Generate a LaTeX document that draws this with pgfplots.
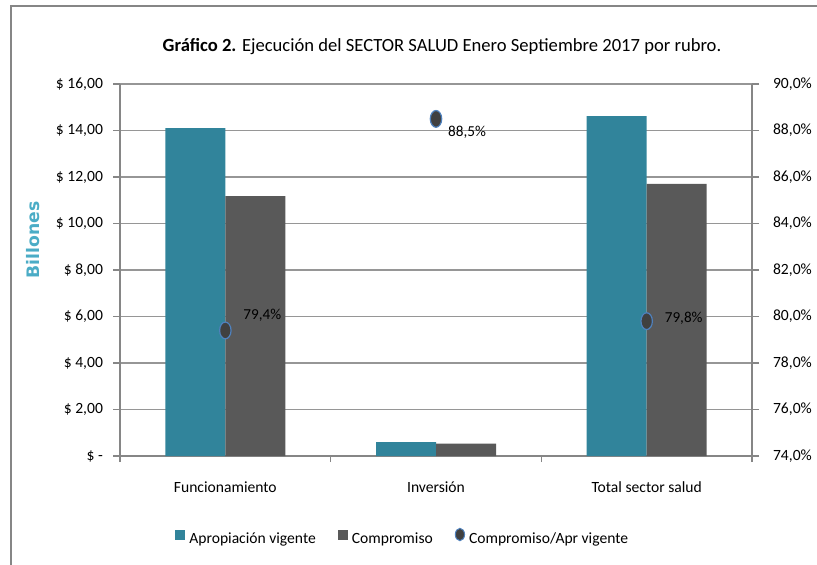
\documentclass[border=0pt]{standalone}
\usepackage{fontspec}
\setmainfont{Carlito}
\newfontfamily\billfont{DejaVu Sans}
\usepackage{pgfplots}
\pgfplotsset{compat=1.18}

\definecolor{apro}{HTML}{31849B}
\definecolor{comp}{HTML}{595959}
\definecolor{dot}{HTML}{404040}
\definecolor{dotedge}{HTML}{4F81BD}
\definecolor{gridc}{HTML}{969696}
\definecolor{axc}{HTML}{868686}
\definecolor{billc}{HTML}{4BACC6}

\begin{document}
\begin{tikzpicture}
\useasboundingbox (0,0) rectangle (408.5pt,282pt);
% chart frame (right and bottom sides fall outside the picture)
\draw[axc, line width=0.6pt] (5.5pt,-10pt) rectangle (430pt,279pt);

\begin{axis}[
    at={(60pt,54pt)}, anchor=south west,
    scale only axis, width=316pt, height=186pt,
    xmin=-0.5, xmax=2.5, ymin=0, ymax=16,
    axis x line*=bottom, axis y line*=left,
    axis line style={axc, line width=0.6pt},
    xtick={0,1,2},
    xticklabels={Funcionamiento,Inversión,Total sector salud},
    minor xtick={-0.5,0.5,1.5,2.5},
    major x tick style={draw=none},
    minor x tick style={axc, line width=0.6pt},
    ytick={0,2,...,16},
    yticklabels={\$ -,\$ 2{,}00,\$ 4{,}00,\$ 6{,}00,\$ 8{,}00,\$ 10{,}00,\$ 12{,}00,\$ 14{,}00,\$ 16{,}00},
    tick align=outside, major tick length=3.5pt, minor tick length=3pt,
    y tick style={axc, line width=0.6pt},
    ymajorgrids, grid style={gridc, line width=0.6pt},
    ticklabel style={font=\fontsize{7.8}{9}\selectfont, text=black},
    xticklabel style={yshift=-6pt},
    yticklabel style={xshift=-1.5pt},
    ybar=0pt, bar width=30pt,
    legend style={at={(0.449,-0.218)}, anchor=center, draw=none,
        font=\fontsize{7.8}{9}\selectfont, legend columns=3,
        nodes={text height=1.6ex, text depth=0.35ex},
        /tikz/every even column/.append style={column sep=9pt}},
    legend cell align=left,
]
\addplot[fill=apro, draw=none, bar shift=-15pt,
    legend image code/.code={\fill[apro] (0.1cm,-1.5pt) rectangle ++(5pt,5pt);}]
    coordinates {(0,14.10) (1,0.60) (2,14.62)};
\addlegendentry{Apropiación vigente}
\addplot[fill=comp, draw=none, bar shift=15pt,
    legend image code/.code={\fill[comp] (0.1cm,-1.5pt) rectangle ++(5pt,5pt);}]
    coordinates {(0,11.18) (1,0.53) (2,11.70)};
\addlegendentry{Compromiso}
\addlegendimage{legend image code/.code={
    \fill[dot, draw=dotedge, line width=0.5pt] (0.3cm,1.3pt) ellipse (2.3pt and 3.1pt);}}
\addlegendentry{Compromiso/Apr vigente}
\end{axis}

\begin{axis}[
    at={(60pt,54pt)}, anchor=south west,
    scale only axis, width=316pt, height=186pt,
    xmin=-0.5, xmax=2.5, ymin=74, ymax=90,
    axis x line=none, axis y line*=right,
    axis line style={axc, line width=0.6pt},
    ytick={74,76,...,90},
    yticklabels={74{,}0\%,76{,}0\%,78{,}0\%,80{,}0\%,82{,}0\%,84{,}0\%,86{,}0\%,88{,}0\%,90{,}0\%},
    tick align=outside, major tick length=3.5pt,
    y tick style={axc, line width=0.6pt},
    ticklabel style={font=\fontsize{7.8}{9}\selectfont, text=black},
    yticklabel style={xshift=3.5pt},
]
\addplot[only marks, mark=*, mark size=4.2pt,
    mark options={fill=dot, draw=dotedge, line width=0.6pt, xscale=0.68},
    visualization depends on={\thisrow{dx}\as\dx},
    visualization depends on={\thisrow{dy}\as\dy},
    point meta=explicit symbolic,
    nodes near coords,
    every node near coord/.append style={anchor=center, xshift=\dx pt, yshift=\dy pt,
        font=\fontsize{7.6}{9}\selectfont, text=black}]
    table[meta=label] {
x  y     label   dx    dy
0  79.4  79,4\%  18.5  7.5
1  88.5  88,5\%  15.5  -6.5
2  79.8  79,8\%  18.5  1.5
};
\end{axis}

\node[font=\fontsize{9.3}{11}\selectfont] at (221pt,258.5pt)
    {\textbf{Gráfico 2.} Ejecución del SECTOR SALUD Enero Septiembre 2017 por rubro.};
\node[rotate=90, font=\billfont\bfseries\fontsize{8.6}{10}\selectfont, text=billc]
    at (16.5pt,162pt) {Billones};
\end{tikzpicture}
\end{document}
